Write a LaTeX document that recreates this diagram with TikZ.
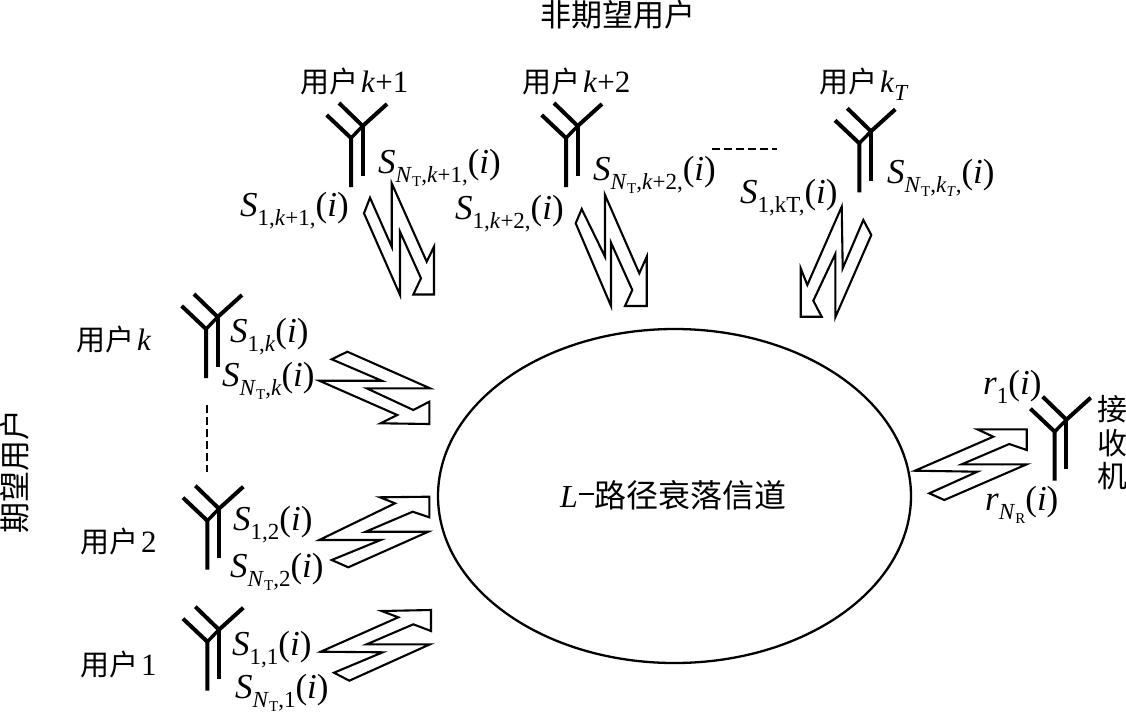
\documentclass[tikz,border=0pt]{standalone}
\usepackage{fontspec}
\usetikzlibrary{shapes.geometric}
\setmainfont{Liberation Serif}
\newfontfamily\cjk{Noto Sans CJK SC}
\newcommand{\fsz}[1]{\fontsize{#1}{#1}\selectfont}
\newcommand{\subs}[1]{\raisebox{-.26em}{\fsz{23}#1}}
\newcommand{\subsub}[1]{\raisebox{-.2em}{\fsz{15}#1}}
\newcommand{\NT}{\textit{N}\subsub{T}}
\newcommand{\lbl}[3]{\textit{#1}\subs{#2}(\textit{#3})}
\newcommand{\zh}[1]{{\fsz{29}\cjk #1}\kern3pt}
\tikzset{
  user/.style={anchor=base west,inner sep=0,font=\fsz{31}},
  sig/.style={anchor=base west,inner sep=0,font=\fsz{35}},
  zht/.style={inner sep=0,font=\fsz{31}\cjk},
  bolt/.style={draw,line width=2.1pt,line join=miter,miter limit=6,fill=white},
  dash line/.style={line width=2pt,dash pattern=on 8pt off 4pt},
  antenna/.pic={
    \draw[line width=4pt,line cap=butt] (-24.3,-23) -- (0,0) -- (0,49);
    \draw[line width=3.4pt] (0,0) -- (11.7,-12);
    \draw[line width=4pt] (-12,-35) -- (11.7,-12) -- (36,-34);
    \draw[line width=4pt] (11.7,-12) -- (11.7,37.5);
  }
}
\begin{document}
\begin{tikzpicture}[x=1pt,y=-1pt]
\useasboundingbox (0,0) rectangle (1126,712);
% channel
\node[draw,ellipse,line width=2.3pt,minimum width=473pt,minimum height=334pt,inner sep=0] (chan) at (674.5,496) {};
\node[anchor=base west,inner sep=0,font=\fsz{32}] (chanlab) at (560,507) {\textit{L}\kern0.5pt\raisebox{.38em}{\rule{15pt}{1.5pt}}\kern1pt{\cjk 路径衰落信道}};
% titles
\node[zht] (undesired) at (618,15) {非期望用户};
\node[zht,rotate=90] (desired) at (15,471) {期望用户};
% antennas
\pic at (351,138) {antenna};
\pic at (566,138) {antenna};
\pic at (859.3,143.3) {antenna};
\pic at (206,329) {antenna};
\pic at (207.3,520.7) {antenna};
\pic at (207.3,641.7) {antenna};
\pic at (1054.7,431.7) {antenna};
% user labels
\node[user] (uk1) at (300,92) {\zh{用户}\textit{k}+1};
\node[user] (uk2) at (522,92) {\zh{用户}\textit{k}+2};
\node[user] (ukt) at (819,92) {\zh{用户}\textit{k}\subs{\textit{T}}};
\node[user] (uk) at (76,350) {\zh{用户}\textit{k}};
\node[user] (u2) at (80,552) {\zh{用户}2};
\node[user] (u1) at (80,675) {\zh{用户}1};
\node[zht,font=\fsz{30}\cjk] (rx1) at (1112,409) {接};
\node[zht,font=\fsz{30}\cjk] (rx2) at (1112,443) {收};
\node[zht,font=\fsz{30}\cjk] (rx3) at (1112,476) {机};
% signal labels
\node[sig] (s1k1) at (240,216) {\lbl{S}{1,\textit{k}+1,}{i}};
\node[sig] (snk1) at (378,173) {\lbl{S}{\NT,\textit{k}+1,}{i}};
\node[sig] (s1k2) at (455,219) {\lbl{S}{1,\textit{k}+2,}{i}};
\node[sig] (snk2) at (593,180) {\lbl{S}{\NT,\textit{k}+2,}{i}};
\node[sig] (s1kt) at (740,203) {\lbl{S}{1,kT,}{i}};
\node[sig] (snkt) at (887,183) {\lbl{S}{\NT,\textit{k}\subsub{\textit{T}},}{i}};
\node[sig] (s1k) at (230,342) {\lbl{S}{1,\textit{k}}{i}};
\node[sig] (snk) at (222,386) {\lbl{S}{\NT,\textit{k}}{i}};
\node[sig] (s12) at (233,530) {\lbl{S}{1,2}{i}};
\node[sig] (sn2) at (230,577) {\lbl{S}{\NT,2}{i}};
\node[sig] (s11) at (232,655) {\lbl{S}{1,1}{i}};
\node[sig] (sn1) at (235,698) {\lbl{S}{\NT,1}{i}};
\node[sig] (r1) at (983,394) {\lbl{r}{1}{i}};
\node[sig] (rn) at (985,510) {\textit{r}\subs{\textit{N}\subsub{R}}(\textit{i})};
% dashes
\coordinate (da) at (207,405); \coordinate (db) at (207,472);
\coordinate (dc) at (712,149); \coordinate (dd) at (777,149);
\draw[dash line] (da) -- (db);
\draw[dash line] (dc) -- (dd);
% lightning arrows
\draw[bolt] (391.7,183.3)--(426.7,261.7)--(434,246.7)--(434,294.5)--(413.3,294.5)--(421,278.3)--(400,231.7)--(400,295)--(364,213.3)--(370,197.7)--(391.7,246.7)--cycle;
\draw[bolt] (605,195)--(639.3,273.3)--(646.7,256.7)--(646.7,306)--(625,306)--(632.3,290)--(611,242.7)--(611,306)--(575.7,223.3)--(581.7,209)--(605,256.7)--cycle;
\draw[bolt] (841.7,206.7)--(807.3,285)--(800.7,268.3)--(800.7,316.7)--(821.7,316.7)--(813.3,300.7)--(835.3,254)--(835.3,317.3)--(871.3,235)--(863.3,220)--(842.7,268.3)--cycle;
\draw[bolt] (319.3,380.7)--(381.7,380.7)--(331.7,359.3)--(347.3,351.7)--(430,388.3)--(366.7,388.3)--(413.3,410)--(429.3,401.7)--(429.3,424)--(380.7,423.3)--(397.3,415)--cycle;
\draw[bolt] (319.3,540)--(380.7,540)--(331.7,560)--(348.3,567.3)--(428.3,531.7)--(365.7,531.7)--(412.7,511.7)--(429.3,517.3)--(429.3,496.7)--(380,497.3)--(395,503.3)--cycle;
\draw[bolt] (320.7,651.7)--(382.7,652.3)--(334,672.7)--(349.3,680.7)--(430,644.3)--(366.7,644.3)--(413.3,624.3)--(431,631)--(431,610)--(381.7,611)--(398.3,617.3)--cycle;
\draw[bolt] (915,470.7)--(977.3,471.7)--(929.3,493.3)--(944.3,500)--(1026.7,464.3)--(961.7,464.3)--(1009.3,444)--(1026.7,450)--(1026.7,429.3)--(977.3,429.3)--(993.3,436.7)--cycle;
\end{tikzpicture}
\end{document}
